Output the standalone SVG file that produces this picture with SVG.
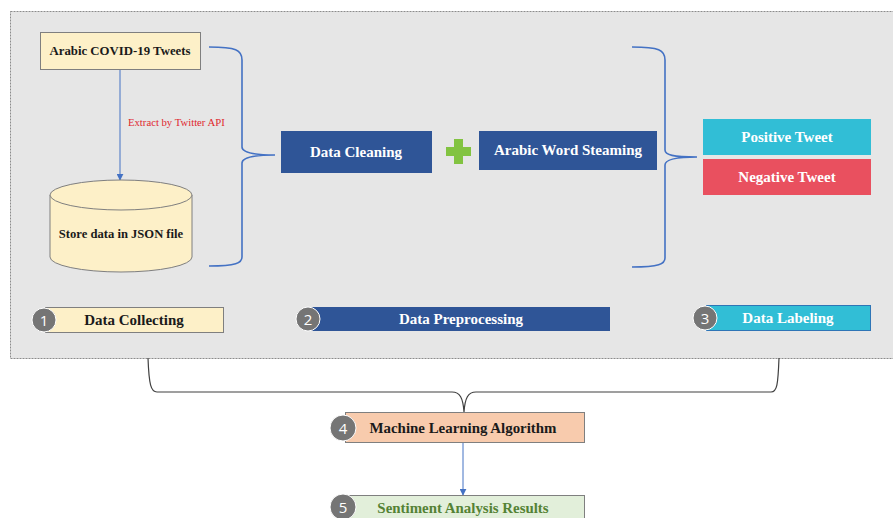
<svg xmlns="http://www.w3.org/2000/svg" width="893" height="518" viewBox="0 0 893 518">
<defs>
<marker id="ah" viewBox="0 0 10 10" refX="9" refY="5" markerWidth="7" markerHeight="7" markerUnits="userSpaceOnUse" orient="auto"><path d="M0,0 L10,5 L0,10 z" fill="#4472c4"/></marker>
<style>
.t{font-family:"Liberation Serif","Times New Roman",serif;font-weight:bold;text-anchor:middle;dominant-baseline:central}
.w{fill:#ffffff}
.num{font-family:"Open Sans","Liberation Sans",sans-serif;font-size:15px;fill:#ffffff;text-anchor:middle;dominant-baseline:central}
.circ{fill:#757575;stroke:#ffffff;stroke-width:1}
.blue{stroke:#4472c4;stroke-width:1.6;fill:none}
.dark{fill:#2f5597}
</style>
</defs>
<rect width="893" height="518" fill="#ffffff"/>
<rect id="panel" x="10.5" y="11.5" width="900" height="347" fill="#e6e6e6" stroke="#8c8c8c" stroke-width="1" stroke-dasharray="2,1"/>

<g id="connectors">
<line x1="120" y1="69" x2="120" y2="180" stroke="#4472c4" stroke-width="1" marker-end="url(#ah)"/>
<text x="128" y="122" font-family="Liberation Serif, serif" font-size="10.7" fill="#e0282e" dominant-baseline="central">Extract  by Twitter API</text>
<path class="blue" d="M209,47 C236,47 242,50 242,60 L242,147 C242,152 250,155 275,155 C250,155 242,158 242,163 L242,257 C242,263 236,266 209,266"/>
<path class="blue" d="M632,47 C659,47 665,50 665,60 L665,150 C665,155 673,157 697,157 C673,157 665,160 665,165 L665,258 C665,264 659,267 632,267"/>
<path d="M148,358 C149,385 151,392 157,392 L452,392 C460,392 463,398 464,412 C465,398 468,392 476,392 L771,392 C777,392 778,385 779,358" fill="none" stroke="#404040" stroke-width="1.2"/>
<line x1="463" y1="443" x2="463" y2="495" stroke="#4472c4" stroke-width="1" marker-end="url(#ah)"/>
</g>

<g id="tweets">
<rect x="40.5" y="32.5" width="160" height="37" fill="#fdf0c8" stroke="#7f7f7f" stroke-width="1"/>
<text class="t" x="120" y="51" font-size="12.8" fill="#1a1a1a">Arabic  COVID-19 Tweets</text>
</g>

<g id="store">
<path d="M50,195 L50,257 A71,15 0 0 0 192,257 L192,195" fill="#fdf0c8" stroke="#7f7f7f" stroke-width="1"/>
<ellipse cx="121" cy="195" rx="71" ry="15" fill="#fdf0c8" stroke="#7f7f7f" stroke-width="1"/>
<text class="t" x="121" y="234" font-size="12.6" fill="#1a1a1a">Store data in  JSON file</text>
</g>

<g id="cleaning">
<rect class="dark" x="281" y="131" width="151" height="42"/>
<text class="t w" x="356" y="152" font-size="15">Data Cleaning</text>
</g>

<g id="plus">
<rect x="454" y="139" width="9" height="25" fill="#82c341"/>
<rect x="446" y="147" width="25" height="9" fill="#82c341"/>
</g>

<g id="stemming">
<rect class="dark" x="479" y="131" width="178" height="39"/>
<text class="t w" x="568" y="150" font-size="15">Arabic Word Steaming</text>
</g>

<g id="positive">
<rect x="703" y="119" width="168" height="36" fill="#31bed6"/>
<text class="t w" x="787" y="137" font-size="15">Positive Tweet</text>
</g>

<g id="negative">
<rect x="703" y="159" width="168" height="36" fill="#e9505f"/>
<text class="t w" x="787" y="177" font-size="15">Negative Tweet</text>
</g>

<g id="step1">
<rect x="45.5" y="307.5" width="178" height="25" fill="#fdf0c8" stroke="#7f7f7f" stroke-width="1"/>
<circle class="circ" cx="44" cy="320" r="12"/>
<text class="num" x="44" y="320">1</text>
<text class="t" x="134" y="320" font-size="15" fill="#1a1a1a">Data Collecting</text>
</g>

<g id="step2">
<rect class="dark" x="306" y="307" width="304" height="24"/>
<circle class="circ" cx="308" cy="319" r="12"/>
<text class="num" x="308" y="319">2</text>
<text class="t w" x="461" y="319" font-size="15">Data Preprocessing</text>
</g>

<g id="step3">
<rect x="706.5" y="305.5" width="164" height="25" fill="#31bed6" stroke="#2e75b6" stroke-width="1"/>
<circle class="circ" cx="705" cy="318" r="12"/>
<text class="num" x="705" y="318">3</text>
<text class="t w" x="788" y="318" font-size="15">Data Labeling</text>
</g>

<g id="step4">
<rect x="345.5" y="412.5" width="239" height="30" fill="#f8cbad" stroke="#7f7f7f" stroke-width="1"/>
<circle class="circ" cx="343" cy="428" r="13"/>
<text class="num" x="343" y="428">4</text>
<text class="t" x="463" y="428" font-size="14.9" fill="#1a1a1a">Machine Learning Algorithm</text>
</g>

<g id="step5">
<rect x="345.5" y="495.5" width="239" height="30" fill="#e2efda" stroke="#7f7f7f" stroke-width="1"/>
<circle class="circ" cx="343" cy="507" r="13"/>
<text class="num" x="343" y="507">5</text>
<text class="t" x="463" y="508" font-size="14.9" fill="#548235">Sentiment Analysis Results</text>
</g>
</svg>
